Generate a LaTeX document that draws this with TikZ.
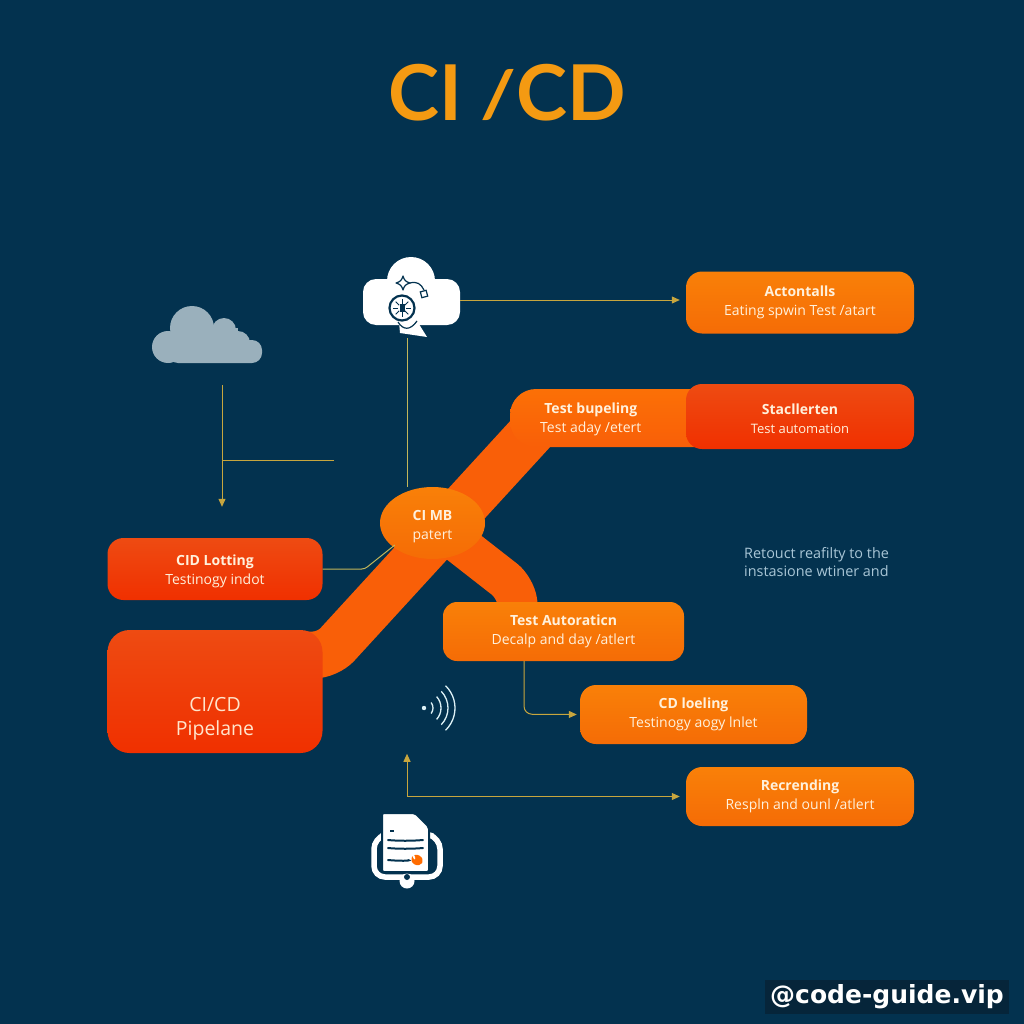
\documentclass[tikz,border=0pt]{standalone}
\usepackage{fontspec}
\setmainfont{Open Sans}
\newfontfamily\titlefont{Lato}
\newfontfamily\markfont{DejaVu Sans}
\usetikzlibrary{arrows.meta,positioning,calc,shapes.geometric,backgrounds}

\definecolor{bgblue}{HTML}{03324F}
\definecolor{orangetop}{HTML}{F98008}
\definecolor{orangelow}{HTML}{F56C06}
\definecolor{bandtop}{HTML}{FB7006}
\definecolor{redtop}{HTML}{EE4B12}
\definecolor{redlow}{HTML}{F03000}
\definecolor{bandorange}{HTML}{F95F08}
\definecolor{wireyellow}{HTML}{C8A63E}
\definecolor{wirepale}{HTML}{C2B65A}
\definecolor{titleorange}{HTML}{F49A12}
\definecolor{notetext}{HTML}{A9C6D6}
\definecolor{cloudgrey}{HTML}{9AB0BC}
\definecolor{wavewhite}{HTML}{DDF1F6}
\definecolor{markbg}{HTML}{06253A}
\definecolor{cardtext}{HTML}{FFF1DC}

\tikzset{
	card/.style={rectangle, rounded corners=16, inner sep=0, align=center, text=cardtext,
		minimum width=228, minimum height=62, font=\fontsize{14}{19}\selectfont},
	orangecard/.style={card, top color=orangetop, bottom color=orangelow},
	redcard/.style={card, top color=redtop, bottom color=redlow},
	band/.style={draw=bandorange, line cap=butt, rounded corners=14},
	wire/.style={draw=wireyellow, line width=1, -{Triangle[length=8,width=7]}},
	paleline/.style={draw=wirepale, line width=1},
}

\begin{document}
\begin{tikzpicture}[x=1pt,y=-1pt]
	
	\useasboundingbox (0,0) rectangle (1024,1024);
	\begin{pgfonlayer}{background}
		\fill[bgblue] (0,0) rectangle (1024,1024);
	\end{pgfonlayer}
	
	% Title
	\node[font=\titlefont\bfseries\fontsize{77}{77}\selectfont, text=titleorange, inner sep=0] (title) at (507,93) {CI \raisebox{3pt}{\scalebox{1}[.84]{/}}CD};
	
	% Cards
	\node[orangecard] (actontalls) at (800,302.5) {\textbf{Actontalls}\\Eating spwin Test /atart};
	\node[card, top color=bandtop, bottom color=bandorange, rounded corners=26, minimum width=220, minimum height=58] (bupeling) at (620,418) {};
	\node[inner sep=0, align=center, text=cardtext, font=\fontsize{14}{19}\selectfont] (bupelinglabel) at ($(bupeling.west)+(81,1)$) {\textbf{Test bupeling}\\Test aday /etert};
	\node[redcard, minimum height=65] (staclerten) at (800,416.5) {\rule{0pt}{16pt}\textbf{Stacllerten}\\\fontsize{13}{19}\selectfont Test automation};
	\node[redcard, minimum width=215] (lotting) at (215,569) {\rule{0pt}{16pt}\textbf{CID Lotting}\\Testinogy indot};
	\node[redcard, minimum width=215, minimum height=123, rounded corners=22, text=white!80!orange, font=\fontsize{19.5}{24}\selectfont] (pipeline) at (215,691.5) {\rule{0pt}{69pt}CI/CD\\Pipelane};
	\node[orangecard, minimum width=241, minimum height=59, rounded corners=14] (automation) at (563.5,631.5) {\textbf{Test Autoraticn}\\Decalp and day /atlert};
	\node[orangecard, minimum width=227, minimum height=59] (loeling) at (693.5,714.5) {\textbf{CD loeling}\\Testinogy aogy lnlet};
	\node[orangecard, minimum height=59] (recending) at (800,796.5) {\textbf{Recrending}\\Respln and ounl /atlert};
	\node[ellipse, top color=orangetop, bottom color=orangelow, minimum width=105, minimum height=72, inner sep=0, align=center, text=cardtext, font=\fontsize{14}{19}\selectfont] (mbnode) at (432.5,523) {\rule{0pt}{18pt}\textbf{CI MB}\\patert};
	
	% Side note
	\node[anchor=west, align=left, text=notetext, inner sep=0, font=\fontsize{14.4}{18}\selectfont] (note) at (744,562) {Retouct reafilty to the\\instasione wtiner and};
	
	% Thick bands
	\begin{pgfonlayer}{background}
		\draw[band, line width=47] ($(pipeline.east)+(-20,-36.5)$) -- ($(pipeline.east)+(5,-36.5)$) -- ($(bupeling.west)+(35,0)$) -- (bupeling.center);
		\draw[band, line width=40] (mbnode.center) -- ($(automation.north)+(-48,-14)$) -- ($(automation.north)+(-45,10)$);
	\end{pgfonlayer}
	
	% Icon holders
	\node[minimum width=97, minimum height=76, inner sep=0] (netcloud) at (411.5,300) {};
	\node[minimum width=110, minimum height=56, inner sep=0] (greycloud) at (207,334) {};
	\node[minimum width=72, minimum height=74, inner sep=0] (docicon) at (407,851) {};
	\node[minimum width=32, minimum height=46, inner sep=0] (waves) at (440,709) {};
	
	% White cloud
	\fill[white, rounded corners=13] (363,279) rectangle (460,325);
	\fill[white] (411,281) ellipse [x radius=24, y radius=24];
	\fill[white] (399,322) -- (400,333) -- (427,337) -- (417,321) -- cycle;
	\draw[bgblue, line width=1.2, line join=round] (398,322) .. controls (403,330) and (410,331) .. (417,321);
	\draw[bgblue, line width=2.2, fill=white] (402,308) circle [radius=12.5];
	\foreach \ang in {0,45,...,315}
	\draw[bgblue, line width=1] ($(402,308)+(\ang:4)$) -- ($(402,308)+(\ang:9)$);
	\fill[bgblue] (399.5,304) rectangle (404.5,312);
	\draw[bgblue, line width=1.2, line join=round] (403,276) .. controls (404,280) and (406,282) .. (410,283) .. controls (406,284) and (404,286) .. (403,290) .. controls (402,286) and (400,284) .. (396,283) .. controls (400,282) and (402,280) .. (403,276) -- cycle;
	\draw[bgblue, line width=1.2] (410,283) .. controls (417,281) and (421,284) .. (424,290);
	\draw[bgblue, line width=1.2, rotate around={15:(424,294)}] (421,291) rectangle (427,297);
	
	% Grey cloud
	\fill[cloudgrey, rounded corners=10] (168,340) rectangle (262,363);
	\fill[cloudgrey] (192,328) circle [radius=22];
	\fill[cloudgrey] (224,330) circle [radius=12];
	\fill[cloudgrey] (238,343) circle [radius=12];
	\fill[cloudgrey] (168,347) circle [radius=16];
	\fill[cloudgrey] (192,328) rectangle (238,345);
	
	% Waves
	\fill[wavewhite] (424,708) circle [radius=2.2];
	\foreach \rad/\spread in {9/38,17/42,24/44,31/46}
	\draw[wavewhite, line width=1.3] ($(424,708)+(-\spread:\rad)$) arc [start angle=-\spread, end angle=\spread, radius=\rad];
	
	% Document icon
	\draw[white, line width=5.5, rounded corners=11] (381,836) -- (374,838) -- (374,877) -- (440,877) -- (440,838) -- (433,836);
	\fill[white] (407,881) circle [radius=7.5];
	\fill[bgblue] (407,877) circle [radius=3];
	\fill[white, rounded corners=2, draw=bgblue, line width=2] (382,813) -- (415,813) -- (429,827) -- (429,872) -- (382,872) -- cycle;
	\fill[bgblue] (390,830) rectangle (394,832);
	\foreach \liney/\lineend in {840/423,848/423,860/408}
	\draw[bgblue, line width=2, line cap=round] (388,\liney) .. controls (398,\liney+1) and (412,\liney+1) .. (\lineend,\liney);
	\fill[orange!85!red] (417,860) ellipse [x radius=6, y radius=5, rotate=-30];
	\fill[white] (414,857) ellipse [x radius=1, y radius=2.5, rotate=20];
	
	% Thin connectors
	\draw[wire] (netcloud.east) -- ($(actontalls.west)+(-6,-2.5)$);
	\draw[paleline] ($(netcloud.south)+(-4.5,0)$) -- ($(mbnode.north)+(-25.5,0)$);
	\draw[wire] ($(greycloud.south)+(15,23)$) -- ($(lotting.north)+(7,-31)$);
	\draw[draw=wireyellow, line width=1] ($(greycloud.south)+(15,98)$) -- ($(greycloud.south)+(127,98)$);
	\draw[paleline, rounded corners=3] (lotting.east) -- ($(lotting.east)+(42,0)$) -- ($(mbnode.west)+(15,22)$);
	\draw[wire, rounded corners=8] ($(automation.south)+(-39.5,0)$) -- ($(automation.south)+(-39.5,53)$) -- ($(loeling.west)+(-3,0)$);
	\draw[wire, {Triangle[length=8,width=7]}-{Triangle[length=8,width=7]}] ($(docicon.north)+(0,-60)$) |- ($(recending.west)+(-6,0)$);
	
	% Watermark
	\node[fill=markbg, text=white, inner sep=0, minimum width=244, minimum height=34, font=\markfont\bfseries\fontsize{25}{26}\selectfont] (watermark) at (887,997) {@code-guide.vip};
	
\end{tikzpicture}
\end{document}
